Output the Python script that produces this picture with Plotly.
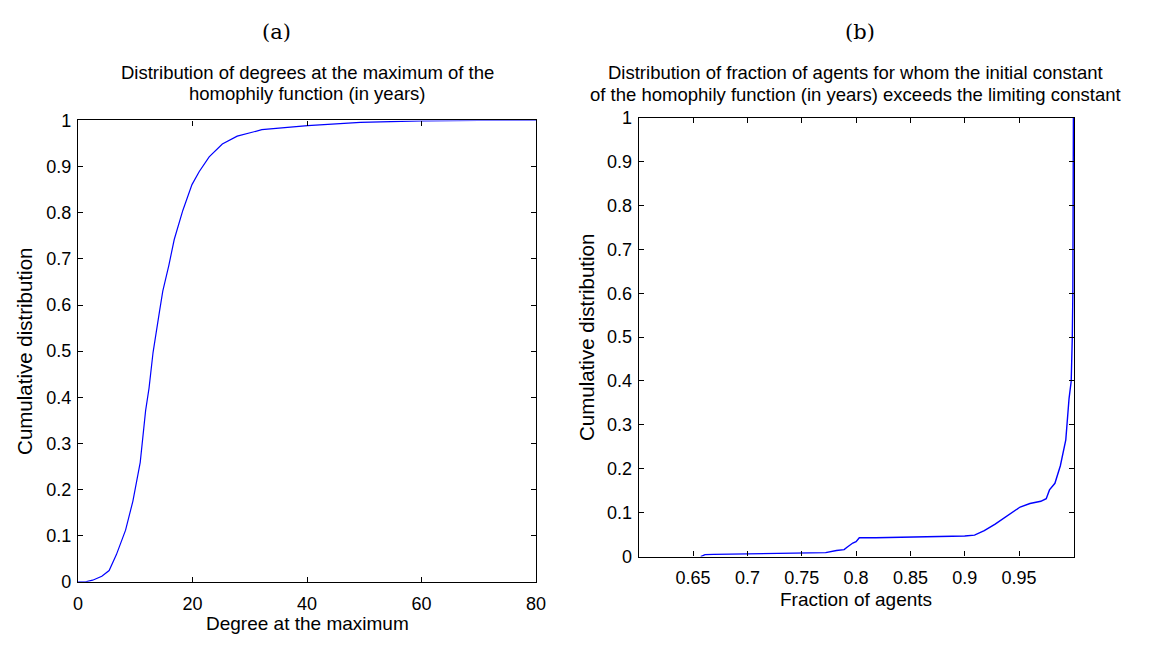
import plotly.graph_objects as go

# ---- data: panel (a) CDF of degree at maximum ----
deg_x = [0, 1.3, 2.55, 4.15, 5.43, 6.7, 8.3, 9.58, 10.86, 11.8, 12.4, 13.1, 14.25, 14.8,
         15.86, 16.8, 18.3, 19.9, 21.15, 22.9, 25.2, 27.8, 32.1, 40.1, 49.3, 60, 70, 80]
deg_y = [0, 0, 0.0035, 0.012, 0.0245, 0.059, 0.112, 0.175, 0.259, 0.371, 0.42, 0.497, 0.588, 0.63,
         0.686, 0.742, 0.805, 0.861, 0.889, 0.921, 0.949, 0.966, 0.980, 0.989, 0.996, 0.999, 1.0, 1.0]

# ---- data: panel (b) CDF of fraction of agents ----
frac_x = [0.657, 0.661, 0.669, 0.702, 0.752, 0.772, 0.782, 0.789, 0.792, 0.797, 0.800, 0.803,
          0.818, 0.885, 0.900, 0.909, 0.918, 0.928, 0.938, 0.951, 0.960, 0.970, 0.975, 0.978,
          0.983, 0.988, 0.993, 0.996, 0.998, 0.9985, 0.999, 0.9995, 1.0]
frac_y = [0, 0.0045, 0.005, 0.0066, 0.008, 0.009, 0.014, 0.016, 0.022, 0.031, 0.034, 0.043,
          0.043, 0.046, 0.047, 0.049, 0.059, 0.074, 0.091, 0.113, 0.121, 0.126, 0.132, 0.152,
          0.167, 0.207, 0.266, 0.36, 0.40, 0.44, 0.5, 0.6, 1.0]

y_ticks = [0, 0.1, 0.2, 0.3, 0.4, 0.5, 0.6, 0.7, 0.8, 0.9, 1]
y_tick_text = ["0", "0.1", "0.2", "0.3", "0.4", "0.5", "0.6", "0.7", "0.8", "0.9", "1"]
deg_ticks = [0, 20, 40, 60, 80]
frac_ticks = [0.65, 0.7, 0.75, 0.8, 0.85, 0.9, 0.95]
frac_tick_text = ["0.65", "0.7", "0.75", "0.8", "0.85", "0.9", "0.95"]

W, H = 1164, 649
FONT = "Liberation Sans, Arial, Helvetica, sans-serif"
SERIF = "DejaVu Serif, Liberation Serif, serif"

fig = go.Figure()
fig.add_trace(go.Scatter(x=deg_x, y=deg_y, mode="lines", line=dict(color="#0000ff", width=1.2),
                         xaxis="x", yaxis="y", showlegend=False, hoverinfo="skip"))
fig.add_trace(go.Scatter(x=frac_x, y=frac_y, mode="lines", line=dict(color="#0000ff", width=1.4),
                         xaxis="x2", yaxis="y2", showlegend=False, hoverinfo="skip"))

def px_x(p):
    return p / W

def px_y(p):
    return 1 - p / H

axis_common = dict(showline=True, linecolor="black", linewidth=1.3, mirror="ticks",
                   ticks="inside", ticklen=5, tickcolor="black", tickwidth=1,
                   showgrid=False, zeroline=False,
                   tickfont=dict(family=FONT, size=18, color="black"))

fig.update_layout(
    width=W, height=H, margin=dict(l=0, r=0, t=0, b=0),
    paper_bgcolor="white", plot_bgcolor="white",
    xaxis=dict(domain=[px_x(74), px_x(538)], range=[0, 80], tickvals=deg_ticks,
               anchor="y", ticklabelstandoff=5, **axis_common),
    yaxis=dict(domain=[px_y(590), px_y(114)], range=[0, 1], tickvals=y_ticks, ticktext=y_tick_text,
               anchor="x", ticklabelstandoff=2, **axis_common),
    xaxis2=dict(domain=[px_x(642), px_x(1083)], range=[0.6, 1.0006], tickvals=frac_ticks,
                ticktext=frac_tick_text, anchor="y2", ticklabelstandoff=5, **axis_common),
    yaxis2=dict(domain=[px_y(564), px_y(111)], range=[0, 1], tickvals=y_ticks, ticktext=y_tick_text,
                anchor="x2", ticklabelstandoff=2, **axis_common),
)

ann = []
def add_text(text, x, y, size, family=FONT, angle=0):
    ann.append(dict(text=text, x=px_x(x), y=px_y(y), xref="paper", yref="paper",
                    showarrow=False, xanchor="center", yanchor="middle", textangle=angle,
                    font=dict(family=family, size=size, color="black")))

add_text("(a)", 275, 23, 21, family=SERIF)
add_text("(b)", 866, 23, 21, family=SERIF)
add_text("Distribution of degrees at the maximum of the", 306, 64, 18.5)
add_text("homophily function (in years)", 306, 86, 18.5)
add_text("Distribution of fraction of agents for whom the initial constant", 862, 65, 18.5)
add_text("of the homophily function (in years) exceeds the limiting constant", 862, 87, 18.5)
add_text("Degree at the maximum", 306, 633, 19)
add_text("Fraction of agents", 862, 608, 19)
add_text("Cumulative distribution", 19, 352, 20.5, angle=-90)
add_text("Cumulative distribution", 589, 338, 20.5, angle=-90)

fig.update_layout(annotations=ann)
fig.write_html("out.html")
